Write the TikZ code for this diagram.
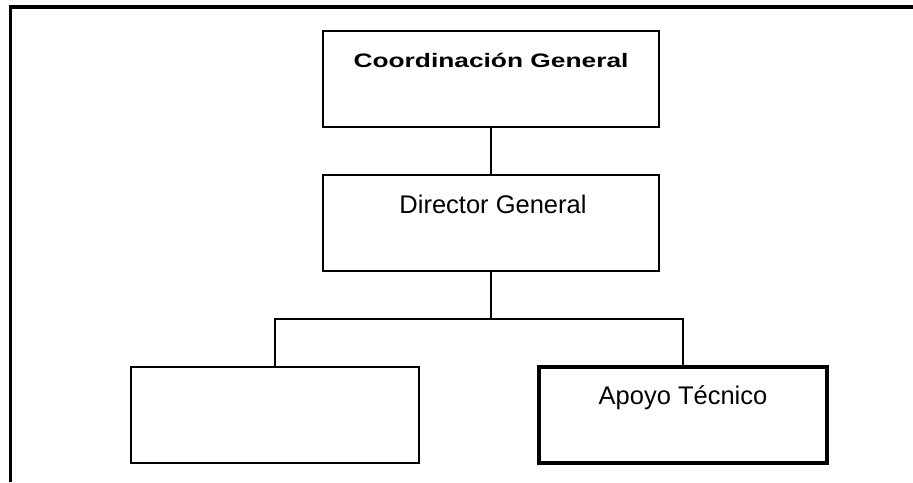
\documentclass[tikz,border=0pt]{standalone}
\usepackage{fontspec}
\setmainfont{Liberation Sans}
\usepackage{graphicx}
\begin{document}
\begin{tikzpicture}[x=1pt,y=-1pt,
  box/.style={draw=black,rectangle,line width=2pt,outer sep=0pt,inner sep=0pt,
              minimum width=336pt,minimum height=96pt},
  lowbox/.style={box,minimum width=288pt},
  thickbox/.style={lowbox,line width=4pt},
  lbl/.style={anchor=base,inner sep=0pt,font=\fontsize{25.5}{30}\selectfont},
  blbl/.style={anchor=base,inner sep=0pt,font=\fontsize{19.5}{24}\selectfont\bfseries},
  conn/.style={draw=black,line width=2pt}]
\useasboundingbox (0,0) rectangle (913,482);
\fill[white] (0,0) rectangle (913,482);
% frame
\draw[line width=3.6pt] (10.6,482) -- (10.6,7) -- (913,7);
% boxes
\node[box] (coord) at (491,79) {};
\node[box] (dir) at (491,222.5) {};
\node[lowbox] (left) at (274.5,415) {};
\node[thickbox] (apoyo) at (683,415) {};
% texts
\node[blbl] (tcoord) at (491,67) {\scalebox{1.35}[1]{Coordinación General}};
\node[lbl] (tdir) at (493,213) {Director General};
\node[lbl] (tapoyo) at (683,404) {Apoyo Técnico};
% connectors
\coordinate (j) at (491,319);
\draw[conn] (coord.south) -- (dir.north);
\draw[conn] (dir.south) -- (j);
\draw[conn] (left.north) |- (j) -| (apoyo.north);
\end{tikzpicture}
\end{document}
